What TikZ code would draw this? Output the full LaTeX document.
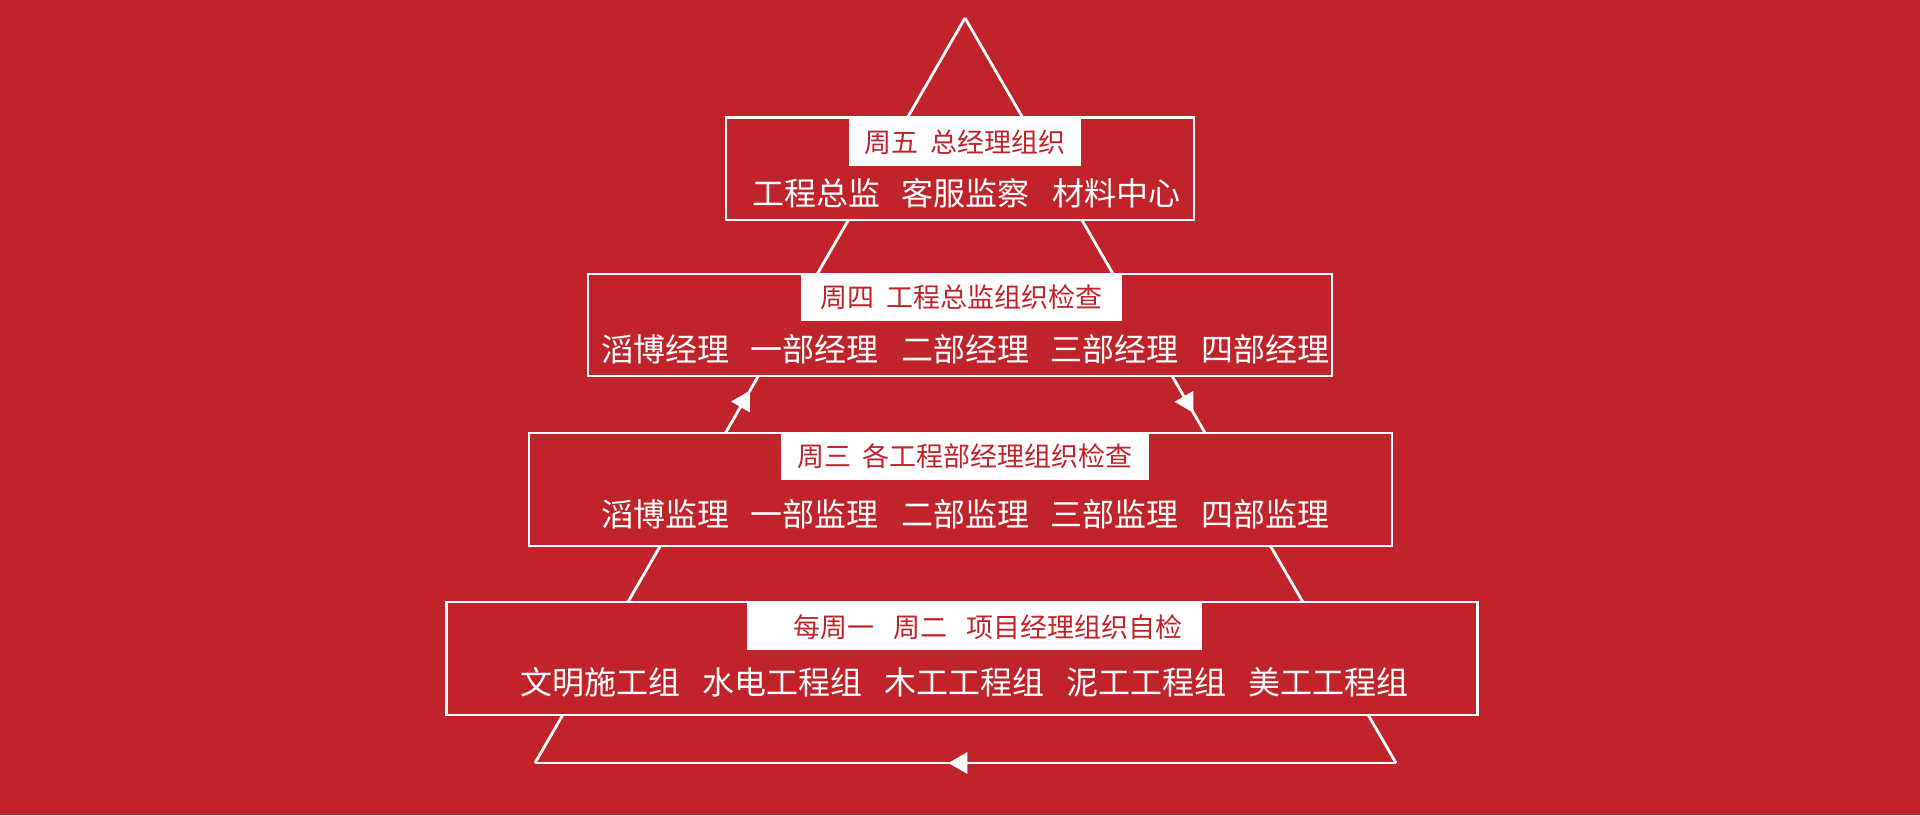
\documentclass[tikz,border=0pt]{standalone}
\usepackage{fontspec}
\setmainfont{Noto Sans CJK SC}
\usetikzlibrary{arrows.meta,decorations.markings}
\definecolor{bgred}{RGB}{192,36,42}
\begin{document}
\begin{tikzpicture}[x=1pt,y=-1pt,
  frame/.style={draw=white, line width=2.7pt, fill=bgred, inner sep=0pt, rectangle},
  tag/.style={fill=white, inner sep=0pt, text=bgred, font=\fontsize{27}{32}\selectfont},
  row/.style={text=white, inner sep=0pt, font=\fontsize{32}{38}\selectfont},
  side/.style={draw=white, line width=2.8pt},
  midarrow/.style={postaction={decorate}, decoration={markings,
      mark=at position #1 with {\arrow{Triangle[length=19pt,width=21pt]}}}}
]
% background
\fill[bgred] (0,0) rectangle (1920,815);
\useasboundingbox (0,0) rectangle (1920,815);

% triangle corners
\coordinate (apex) at (965,18);
\coordinate (bl) at (535,763);
\coordinate (br) at (1396,763);

\draw[side, midarrow=0.5] (bl) -- (apex);
\draw[side, midarrow=0.53] (apex) -- (br);
\draw[side, midarrow=0.52] (br) -- (bl);

% boxes
\node[frame, minimum width=468, minimum height=102.5] (b1) at (960,168.75) {};
\node[frame, minimum width=744, minimum height=102] (b2) at (960,325) {};
\node[frame, minimum width=863, minimum height=113] (b3) at (960.5,489.5) {};
\node[frame, minimum width=1031, minimum height=113] (b4) at (962.3,658.5) {};

% white tags
\node[tag, minimum width=232, minimum height=48] (t1) at (965,142) {周五\hspace{12pt}总经理组织};
\node[tag, minimum width=321, minimum height=47] (t2) at (961.5,297.5) {周四\hspace{12pt}工程总监组织检查};
\node[tag, minimum width=368, minimum height=47] (t3) at (965,456.5) {周三\hspace{12pt}各工程部经理组织检查};
\node[tag, minimum width=455, minimum height=48] (t4) at (974.3,626) {};
\node[tag, fill=none] (t4txt) at (988,627) {每周一\hspace{19pt}周二\hspace{19pt}项目经理组织自检};

% rows
\node[row] (r1) at (966,193) {工程总监\hspace{22pt}客服监察\hspace{22pt}材料中心};
\node[row] (r2) at (965,349) {滔博经理\hspace{22pt}一部经理\hspace{22pt}二部经理\hspace{22pt}三部经理\hspace{22pt}四部经理};
\node[row] (r3) at (965,514.5) {滔博监理\hspace{22pt}一部监理\hspace{22pt}二部监理\hspace{22pt}三部监理\hspace{22pt}四部监理};
\node[row] (r4) at (964.5,682.5) {文明施工组\hspace{22pt}水电工程组\hspace{22pt}木工工程组\hspace{22pt}泥工工程组\hspace{22pt}美工工程组};
\end{tikzpicture}
\end{document}
